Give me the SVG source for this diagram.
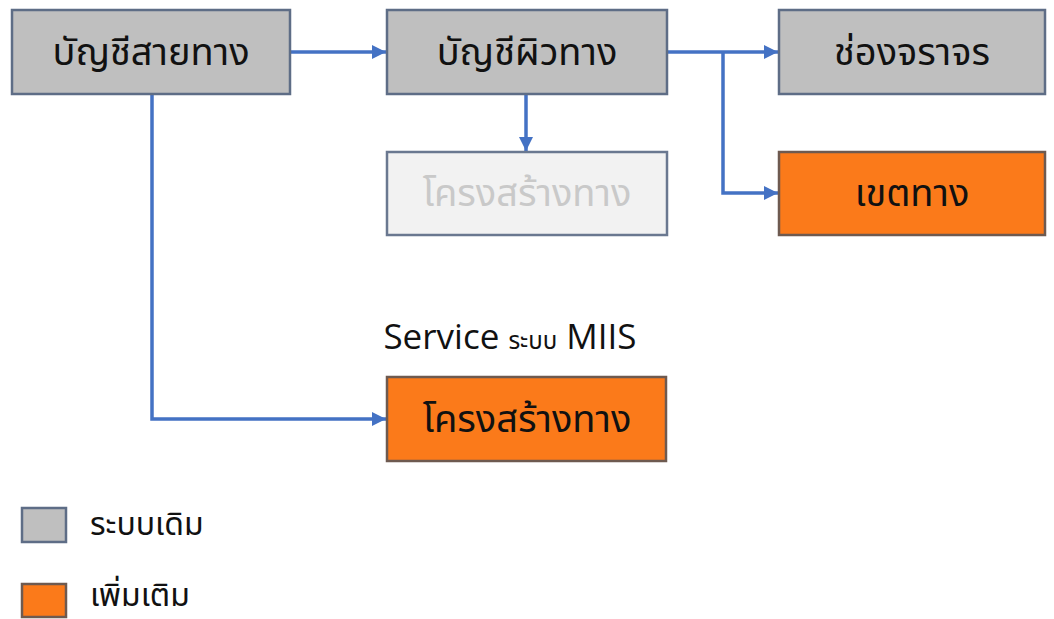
<svg xmlns="http://www.w3.org/2000/svg" width="1054" height="619" viewBox="0 0 1054 619">
<defs>
<style>
.box rect{stroke-width:2.5}
.old rect{fill:#bfbfbf;stroke:#5e6d86}
.new rect{fill:#fb7a1a;stroke:#6e5a50}
.faded rect{fill:#f2f2f2;stroke:#6a7890}
.lbl{font-family:"Noto Sans Thai","Noto Sans","DejaVu Sans",sans-serif;font-size:38px;fill:#111;text-anchor:middle}
.faded .lbl{fill:#c9c9c9}
.leg{font-family:"Noto Sans Thai","Noto Sans","DejaVu Sans",sans-serif;font-size:32px;fill:#111}
.conn path{fill:none;stroke:#4472c4;stroke-width:3.5}
</style>
<marker id="ah" viewBox="0 0 10 10" refX="10" refY="5" markerWidth="4" markerHeight="4" markerUnits="strokeWidth" orient="auto">
<path d="M0,0 L10,5 L0,10 z" fill="#4472c4"/>
</marker>
</defs>
<rect width="1054" height="619" fill="#ffffff"/>
<g class="conn">
<path d="M290,52 H386" marker-end="url(#ah)"/>
<path d="M526,94 V151" marker-end="url(#ah)"/>
<path d="M667,52 H778" marker-end="url(#ah)"/>
<path d="M723,52 V193 H778" marker-end="url(#ah)"/>
<path d="M152,94 V419 H386" marker-end="url(#ah)"/>
</g>
<g id="n1" class="box old"><rect x="12" y="10" width="278" height="84"/><text class="lbl" x="151" y="65">บัญชีสายทาง</text></g>
<g id="n2" class="box old"><rect x="387" y="10" width="280" height="84"/><text class="lbl" x="527" y="65">บัญชีผิวทาง</text></g>
<g id="n3" class="box old"><rect x="779" y="10" width="266" height="84"/><text class="lbl" x="912" y="65">ช่องจราจร</text></g>
<g id="n4" class="box faded"><rect x="387" y="152" width="280" height="83"/><text class="lbl" x="527" y="206">โครงสร้างทาง</text></g>
<g id="n5" class="box new"><rect x="779" y="152" width="266" height="83"/><text class="lbl" x="912" y="206">เขตทาง</text></g>
<g id="n6" class="box new"><rect x="387" y="377" width="279" height="84"/><text class="lbl" x="527" y="432">โครงสร้างทาง</text></g>
<text x="510" y="349" text-anchor="middle" font-family="'Open Sans','Noto Sans',sans-serif" font-size="35" fill="#111">Service <tspan font-family="'Noto Sans Thai','Noto Sans',sans-serif" font-size="24">ระบบ</tspan> MIIS</text>
<g id="leg1" class="box old"><rect x="22" y="508" width="44" height="34"/><text class="leg" x="90" y="535">ระบบเดิม</text></g>
<g id="leg2" class="box new"><rect x="22" y="584" width="44" height="33"/><text class="leg" x="90" y="606">เพิ่มเติม</text></g>
</svg>
